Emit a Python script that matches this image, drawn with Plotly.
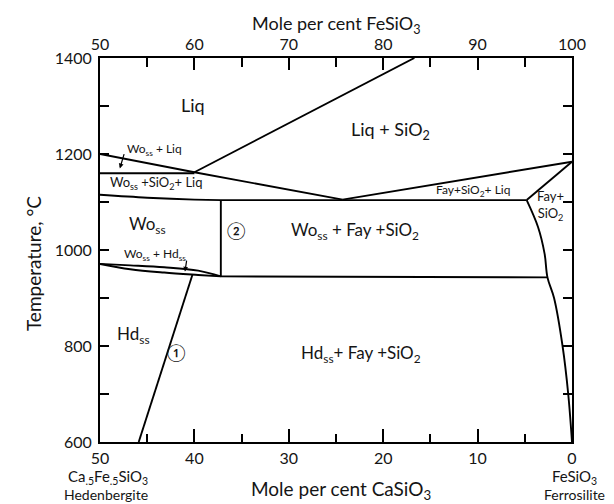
import plotly.graph_objects as go

# ---- boundary data: x = mole per cent CaSiO3, y = temperature (deg C) ----
liquidus_ca = [40.0, 16.7]
liquidus_t = [1162, 1400]

wo_liq_ca = [50.0, 40.0, 24.3]
wo_liq_t = [1200, 1162, 1105]

wo_sio2_top_ca = [50.0, 40.0]
wo_sio2_top_t = [1160, 1160]

solidus_ca = [50.0, 45.0, 40.0, 37.2, 24.3, 4.8]
solidus_t = [1115, 1109, 1105, 1104, 1104, 1104]

liq_sio2_ca = [24.3, 0.0]
liq_sio2_t = [1105, 1184]

fay_sio2_ca = [4.8, 0.0]
fay_sio2_t = [1104, 1184]

fs_curve_ca = [4.8, 3.6, 2.9, 2.6, 1.9, 1.0, 0.4, 0.0]
fs_curve_t = [1104, 1048, 992, 943, 900, 800, 700, 600]

wo_fay_ca = [37.2, 37.2]
wo_fay_t = [1104, 945]

hd_fay_ca = [37.2, 2.6]
hd_fay_t = [945, 943]

lens_upper_ca = [50.0, 46.8, 43.2, 39.6, 37.2]
lens_upper_t = [971, 968, 964, 957, 945]

lens_lower_ca = [50.0, 46.8, 43.2, 39.6, 37.2]
lens_lower_t = [971, 960, 953, 948, 945]

hd_line_ca = [45.9, 40.2]
hd_line_t = [600, 949]

bottom_ticks = [50, 40, 30, 20, 10, 0]
bottom_minor = [45, 35, 25, 15, 5]
top_ticks = [50, 60, 70, 80, 90, 100]
top_minor = [55, 65, 75, 85, 95]
temp_ticks = [600, 700, 800, 900, 1000, 1100, 1200, 1300, 1400]
temp_labels = ["600", "", "800", "", "1000", "", "1200", "", "1400"]

FONT = "Lato"
TC = "#151515"
LC = "black"
LW = 1.9

boundaries = [
    (liquidus_ca, liquidus_t, "linear"),
    (wo_liq_ca, wo_liq_t, "spline"),
    (wo_sio2_top_ca, wo_sio2_top_t, "linear"),
    (solidus_ca, solidus_t, "spline"),
    (liq_sio2_ca, liq_sio2_t, "linear"),
    (fay_sio2_ca, fay_sio2_t, "linear"),
    (fs_curve_ca, fs_curve_t, "spline"),
    (wo_fay_ca, wo_fay_t, "linear"),
    (hd_fay_ca, hd_fay_t, "linear"),
    (lens_upper_ca, lens_upper_t, "spline"),
    (lens_lower_ca, lens_lower_t, "spline"),
    (hd_line_ca, hd_line_t, "linear"),
]

fig = go.Figure()
for xs, ys, shp in boundaries:
    fig.add_trace(go.Scatter(x=xs, y=ys, mode="lines",
                             line=dict(color=LC, width=LW, shape=shp),
                             showlegend=False, hoverinfo="skip"))

# invisible trace to activate the top FeSiO3 axis
fig.add_trace(go.Scatter(x=[50, 100], y=[600, 600], xaxis="x2", mode="lines",
                         line=dict(width=0), showlegend=False, hoverinfo="skip"))

tick_font = dict(family=FONT, size=16, color=TC)

fig.update_layout(
    width=614, height=504, autosize=False,
    margin=dict(l=92, r=50, t=50, b=70),
    paper_bgcolor="white", plot_bgcolor="white",
    font=dict(family=FONT, color=TC),
    xaxis=dict(range=[50, 0], tickmode="array", tickvals=bottom_ticks,
               ticktext=[str(v) for v in bottom_ticks],
               ticks="inside", ticklen=13, tickwidth=1.5, tickcolor=LC,
               minor=dict(tickmode="array", tickvals=bottom_minor,
                          ticks="inside", ticklen=8, tickwidth=1.5, tickcolor=LC),
               showline=True, linecolor=LC, linewidth=2, showgrid=False,
               zeroline=False, tickfont=tick_font, ticklabelstandoff=1),
    xaxis2=dict(range=[50, 100], overlaying="x", side="top", anchor="y",
                tickmode="array", tickvals=top_ticks,
                ticktext=[str(v) for v in top_ticks],
                ticks="inside", ticklen=12, tickwidth=1.5, tickcolor=LC,
                minor=dict(tickmode="array", tickvals=top_minor,
                           ticks="inside", ticklen=9, tickwidth=1.5, tickcolor=LC),
                showline=True, linecolor=LC, linewidth=2, showgrid=False,
                zeroline=False, tickfont=tick_font),
    yaxis=dict(range=[600, 1400], tickmode="array", tickvals=temp_ticks,
               ticktext=temp_labels, ticks="inside", ticklen=9, tickwidth=1.5,
               tickcolor=LC, showline=True, linecolor=LC, linewidth=2,
               mirror="ticks", showgrid=False, zeroline=False, tickfont=tick_font,
               ticklabelstandoff=3),
)

ann = []


def txt(x, y, text, size=13, xref="x", yref="y", **kw):
    ann.append(dict(x=x, y=y, xref=xref, yref=yref, text=text, showarrow=False,
                    xanchor="center", yanchor="middle",
                    font=dict(family=FONT, size=size, color=TC), **kw))


def arrow(x0, y0, x1, y1):
    ann.append(dict(x=x1, y=y1, ax=x0, ay=y0, xref="x", yref="y", axref="x", ayref="y",
                    text="", showarrow=True, arrowhead=2, arrowsize=0.8,
                    arrowwidth=1.2, arrowcolor=LC))


# region labels
txt(40.1, 1302, "Liq", 18)
txt(19.2, 1250, "Liq + SiO<sub>2</sub>", 18)
txt(44.2, 1209, "Wo<sub>ss</sub> + Liq", 12)
arrow(47.4, 1203, 47.9, 1170)
txt(44.0, 1139, "Wo<sub>ss</sub> +SiO<sub>2</sub>+ Liq", 13)
txt(10.5, 1124, "Fay+SiO<sub>2</sub>+ Liq", 12)
txt(2.3, 1092, "Fay+<br>SiO<sub>2</sub>", 13)
txt(45.0, 1053, "Wo<sub>ss</sub>", 17)
txt(35.5, 1040, "\u2461", 17)
txt(23.0, 1039, "Wo<sub>ss</sub> + Fay +SiO<sub>2</sub>", 17)
txt(44.2, 990, "Wo<sub>ss</sub> + Hd<sub>ss</sub>", 12)
arrow(40.8, 981, 41.0, 955)
txt(46.4, 823, "Hd<sub>ss</sub>", 17)
txt(41.9, 787, "\u2460", 17)
txt(22.3, 783, "Hd<sub>ss</sub>+ Fay +SiO<sub>2</sub>", 17)

# axis titles and end-member labels
txt(0.502, 1.088, "Mole per cent FeSiO<sub>3</sub>", 18, xref="paper", yref="paper")
txt(0.511, -0.125, "Mole per cent CaSiO<sub>3</sub>", 19, xref="paper", yref="paper")
txt(-0.142, 0.466, "Temperature, \u00b0C", 19, xref="paper", yref="paper", textangle=-90)
txt(0.017, -0.09, "Ca<sub>.5</sub>Fe<sub>.5</sub>SiO<sub>3</sub>", 15, xref="paper", yref="paper")
txt(0.013, -0.138, "Hedenbergite", 14, xref="paper", yref="paper")
txt(1.006, -0.092, "FeSiO<sub>3</sub>", 15, xref="paper", yref="paper")
txt(1.005, -0.138, "Ferrosilite", 14, xref="paper", yref="paper")

fig.update_layout(annotations=ann)
fig.write_html("out.html")
